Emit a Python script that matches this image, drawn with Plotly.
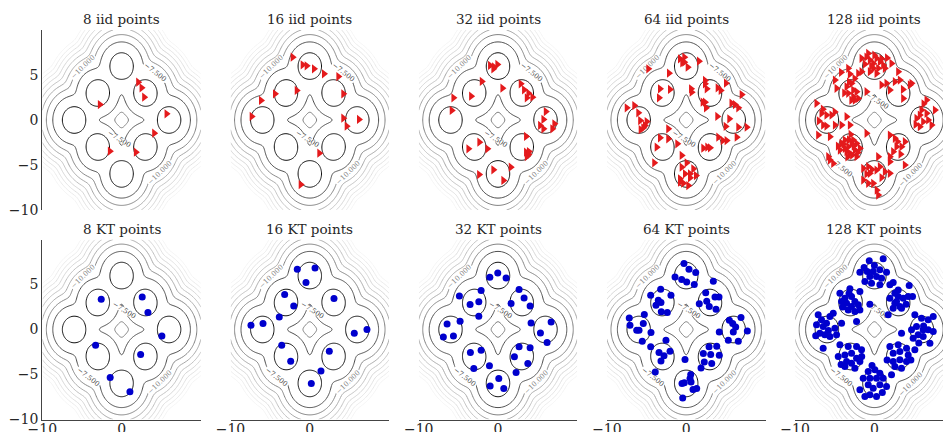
import numpy as np
import plotly.graph_objects as go

# ---- target: 8-component Gaussian mixture (identity covariance) ----
MEANS_X = [-3, -3, 3, 3, 0, -6, 6, 0]
MEANS_Y = [3, -3, 3, -3, 6, 0, 0, -6]
SIGMA = 1.0
LEVEL_START, LEVEL_END, LEVEL_STEP = -27.5, -5.0, 2.5
COLOR_MIN, COLOR_MAX = -30.0, -5.0

# ---- point sets ----
iid8_x = [2.09, 2.52, 2.85, -2.74, 5.67, 4.11, -1.48, 1.80]
iid8_y = [4.2, 3.58, 2.53, 1.72, 0.69, -1.47, -3.47, -3.58]
kt8_x = [-2.57, 2.6, 3.32, 5.08, -3.28, 2.40, -1.44, 1.05]
kt8_y = [3.37, 3.62, 1.89, -0.71, -1.74, -2.78, -5.33, -6.93]

iid16_x = [-2.16, -0.9, -0.39, 0.53, 1.79, 3.6, -1.65, -4.39, 4.23, -6.15, -7.33, 4.23, 6.2, 4.65, 1.2, -1.15]
iid16_y = [6.98, 6.13, 6.02, 5.69, 5.13, 4.83, 3.28, 2.91, 2.91, 2.17, 0.39, 0.2, 0.06, -0.69, -3.69, -7.17]
kt16_x = [-1.58, 0.66, -0.48, -3.17, 3.05, -2.03, -3.85, -5.9, -7.42, 7.21, 5.61, -3.54, 2.46, -2.41, 1.41, 0.19]
kt16_y = [6.7, 6.84, 5.22, 3.89, 3.44, 2.62, 1.4, 0.67, 0.48, 0.0, -0.41, -1.74, -2.41, -3.52, -4.6, -6.0]

iid32_x = [-1.0, -0.08, -0.58, -2.04, 0.56, 2.87, 3.29, 3.84, 4.34, 3.63, -5.62, -3.39, -5.83, 6.03, 5.73, 5.31,
           5.73, 7.11, 6.86, 3.54, -2.35, -3.73, -1.34, 3.54, 3.84, 3.63, 1.61, -0.58, -2.38, 0.68, 3.9, -0.5]
iid32_y = [6.06, 6.17, 5.69, 4.28, 3.53, 4.02, 3.36, 2.98, 2.53, 2.47, 2.47, 2.64, 1.06, 0.94, 0.06, -0.61,
           -0.98, -0.42, -0.98, -1.83, -2.47, -3.2, -3.2, -3.58, -3.83, -4.06, -5.24, -5.54, -6.06, -6.72, -3.5, 5.9]
kt32_x = [-1.03, -0.03, 1.02, -4.87, -2.13, -3.52, -2.42, -2.42, 2.66, 3.29, 1.65, 4.05, -4.78, -6.42, -6.89, -5.62,
          4.17, 6.7, 5.35, 6.19, -3.48, -2.13, -3.05, -1.08, 2.66, 4.05, 2.07, 3.76, 2.28, 0.1, -0.99, 0.73]
kt32_y = [5.81, 6.29, 5.73, 3.73, 4.33, 2.78, 3.07, 1.48, 4.44, 3.51, 2.89, 2.62, 0.92, 0.62, -0.82, -0.71,
          0.73, 0.84, -0.38, -1.44, -2.56, -2.3, -4.33, -4.04, -1.93, -2.04, -3.04, -3.78, -4.78, -5.44, -6.27, -6.56]

iid64_x = [-0.78, -0.24, -0.49, 0.19, 1.61, -4.78, -2.17, -3.3, -2.04, -3.43, 0.61, 0.69, 2.37, 2.59, 3.97, 4.35,
           5.02, 7.0, 2.08, 2.5, 5.71, 6.15, 5.44, 3.92, 4.98, 6.57, 6.37, 7.63, 4.6, 5.1, -7.5, -6.54,
           -6.04, -4.98, -5.2, -5.74, -5.41, -2.26, -3.3, -2.26, -3.72, -1.12, -4.03, 2.16, 2.66, 3.0, -0.57, 0.06,
           -0.57, 0.9, -0.15, -0.78, 0.48, 1.24, -0.37, 0.27, -0.78, -5.8, 0.48, 6.57, 4.05, 2.37, -0.24, 2.37]
iid64_y = [6.8, 6.98, 6.35, 5.87, 6.54, 5.69, 5.2, 3.47, 3.39, 2.46, 3.47, 3.09, 4.39, 3.47, 3.57, 3.28,
           4.09, 2.83, 1.98, 1.35, 1.87, 1.72, 0.13, 0.39, -0.72, -0.8, -1.91, -0.8, -2.28, -2.28, 1.35, 1.61,
           0.8, -0.17, -0.61, -1.06, -0.87, -0.98, -1.98, -2.09, -3.02, -2.65, -4.76, -3.13, -3.02, -3.09, -3.94, -4.76,
           -5.24, -5.43, -5.98, -6.54, -6.43, -6.17, -7.02, -7.28, -6.91, -0.06, -5.98, 1.35, -1.91, 1.98, 6.42, 4.02]
kt64_x = [-0.28, 0.35, 1.2, -1.41, -0.57, 0.06, 1.02,
          -4.48, -3.22, -1.92, -3.52, -3.18, -3.81, -3.14, -2.38,
          3.42, 2.46, 3.63, 4.14, 2.59, 1.65, 2.91, 3.76,
          -7.18, -5.28, -7.09, -5.41, -6.24, -5.95, -4.44, -5.54,
          5.44, 5.86, 6.91, 6.24, 5.94, 7.71, 5.31, 6.57, 4.17,
          -2.55, -4.48, -3.43, -2.04, -2.8, -3.18, -3.9,
          -0.15,
          2.88, 3.85, 2.16, 3.09, 4.17, 2.28, 3.22, 1.87,
          0.57, -0.53, -0.24, 0.61, 0.86, 1.32, -0.44, 0.48]
kt64_y = [7.33, 6.7, 6.33, 5.84, 5.56, 5.29, 5.0,
          3.81, 4.48, 3.81, 3.26, 3.0, 2.7, 1.96, 1.89,
          5.37, 4.07, 3.62, 3.62, 3.14, 2.85, 2.56, 2.26,
          1.29, 1.66, 0.48, 0.67, -0.08, -0.08, -0.33, -1.3,
          1.03, 0.67, 1.33, 0.29, -0.27, -0.16, -1.19, -1.3, -0.27,
          -1.19, -1.93, -2.56, -2.41, -2.93, -3.49, -4.71,
          -3.33,
          -1.93, -1.86, -2.67, -2.78, -2.86, -3.6, -3.78, -4.27,
          -5.0, -6.0, -5.93, -5.82, -6.67, -6.56, -7.6, -5.44]

iid128_x = [-1.62, -0.78, -0.57, -0.15, 0.27, 0.69, -0.15, 0.48, 1.11, 2.16, 1.32, -0.57, 0.27,
            -4.98, -3.3, -3.09, -2.04, -1.62, -3.51, -2.88, -2.67, -2.25, -3.3, -2.67, -2.04, -0.99, -4.77, -2.46,
            0.9, 1.53, 2.58, 3.21, 4.68, 3.0, 3.63, 1.95, 4.47,
            6.58, 5.94, 5.73, 6.58, 5.31, 6.15, 6.78, 7.21, 5.73, 7.63,
            -7.3, -6.67, -6.04, -5.4, -6.46, -6.04, -4.98, -3.51, -3.09, -4.14, -7.09, -5.61,
            -4.14, -3.72, -3.3, -2.88, -2.46, -3.51, -3.09, -2.25, -1.83, -3.72, -4.35, -2.67, -0.99, -5.61, -5.19, -5.82, -2.25,
            1.95, 2.58, 2.79, 3.42, 3.84, 2.37, 1.95, 3.84,
            -1.41, -0.78, -0.57, 0.27, 0.69, 0.48, -1.41, -0.78, -0.15, 1.32, 1.95, 0.48, 1.95,
            -1.0, 0.0, -0.4, 0.9, -1.2, 1.6, -3.2, -2.5, -3.8, -2.9, -4.2,
            -3.2, -2.6, -3.9, -2.1, -3.4, -4.6, -2.8, -3.0, -6.5, -5.0, -7.0,
            6.2, 5.2, 2.9, 3.3, -0.3, 0.9, -1.0, 0.3, 3.6]
iid128_y = [6.85, 7.4, 6.66, 6.29, 6.85, 6.48, 5.74, 5.74, 6.11, 6.29, 5.74, 5.37, 5.18,
            4.44, 5.74, 5.11, 5.18, 5.37, 3.7, 4.07, 3.33, 3.14, 2.96, 2.59, 2.4, 3.14, 3.52, 2.22,
            3.89, 4.07, 4.26, 4.44, 4.07, 5.37, 2.4, 3.33, 3.89,
            2.22, 1.11, 0.55, 0.74, 0.18, -0.19, 0.0, -0.56, -0.74, 1.11,
            1.85, 0.74, 0.55, 0.55, -0.56, -0.67, -0.56, 0.37, -0.56, -0.56, -1.67, -1.86,
            -2.6, -2.23, -2.97, -2.6, -3.34, -3.52, -3.71, -2.6, -3.15, -3.15, -3.34, -2.23, -1.48, -4.45, -4.82, -4.08, -4.08,
            -1.67, -2.04, -2.97, -2.97, -2.41, -3.52, -4.08, -5.0,
            -5.37, -5.19, -5.93, -5.56, -5.19, -4.08, -6.67, -7.04, -7.04, -5.74, -5.93, -8.34, -4.63,
            7.0, 7.2, 6.0, 6.8, 6.2, 6.9, 4.2, 4.6, 3.0, 2.2, 5.3,
            -2.2, -2.9, -2.7, -3.6, -4.1, -2.9, -3.9, -1.6, 1.2, 0.9, -0.1,
            1.8, -0.5, -2.4, -3.8, -5.5, -6.4, -6.0, -7.8, 3.4]
kt128_x = [-0.65, 1.11, -1.83, -0.91, -0.15, 0.69, 1.53, -0.57, 0.27, 0.9, -1.2, -0.36, 0.69, 2.37,
           -4.35, -3.09, -1.83, -3.72, -2.88, -2.46, -3.51, -2.88, -2.04, -3.3, -2.46, -1.83, -4.14, -0.57,
           1.95, 2.58, 2.79, 3.0, 3.63, 4.26, 1.95, 2.58, 3.21, 2.37, 4.39, 4.81, 1.74, 3.42,
           -7.09, -6.67, -5.61, -5.19, -7.3, -6.46, -6.04, -4.98, -6.88, -6.25, -5.61, -4.77, -4.14, -6.46, -2.25,
           5.1, 5.94, 6.78, 7.42, 4.68, 5.31, 6.15, 6.78, 7.42, 5.52, 6.15, 7.0, 3.42, 4.89,
           -4.35, -3.3, -2.25, -1.62, -4.56, -3.72, -2.88, -2.25, -3.51, -2.88, -1.83, -3.72, -2.46,
           1.95, 3.0, 4.05, 2.37, 3.21, 4.26, 2.37, 3.21, 4.05, 2.58, 3.42, 5.1,
           -0.78, 0.06, 0.69, -1.41, -0.57, 0.27, 1.11, -1.83, -0.78, -0.15, 0.69, 1.53, -0.57, 0.27, -1.2, 2.16,
           0.0, -1.3, -3.2, -4.0, 3.0, 4.0, -5.8, -7.4, 6.2, 5.6, -4.2, -1.6, 4.6, 1.6, -0.3, 1.0]
kt128_y = [7.63, 7.85, 6.37, 6.44, 6.44, 6.63, 6.37, 5.89, 5.89, 5.7, 5.33, 5.15, 4.96, 5.22,
           4.04, 4.52, 4.22, 3.48, 3.67, 3.11, 2.93, 2.55, 2.74, 2.18, 2.0, 2.18, 3.11, 2.81,
           4.96, 4.04, 3.11, 3.67, 3.48, 3.67, 3.48, 2.93, 2.55, 2.37, 4.89, 3.67, 1.63, 2.37,
           1.63, 1.07, 1.44, 1.81, 0.52, 0.33, 0.7, 0.15, -0.41, -0.59, -0.78, -0.59, 0.7, -2.07, 0.89,
           1.63, 1.26, 1.07, 1.44, -0.04, 0.33, -0.04, -0.04, -0.22, -0.59, -0.78, -1.52, -0.41, -0.96,
           -1.7, -1.89, -1.89, -2.26, -3.0, -2.82, -2.63, -3.19, -3.56, -3.74, -3.56, -4.11, -4.3,
           -1.89, -1.7, -2.07, -2.63, -2.45, -2.82, -3.56, -3.37, -3.56, -4.11, -4.3, -2.26,
           -4.67, -4.48, -4.85, -5.41, -5.41, -5.41, -5.41, -6.7, -6.15, -6.52, -6.15, -6.33, -7.26, -7.45, -7.45, -5.04,
           7.1, 6.9, 4.0, 2.5, 4.4, 2.8, -0.1, -0.7, 0.4, -1.5, -3.9, -3.0, -3.4, -3.4, -4.0, -7.0]

TITLES_TOP = ["8 iid points", "16 iid points", "32 iid points", "64 iid points", "128 iid points"]
TITLES_BOT = ["8 KT points", "16 KT points", "32 KT points", "64 KT points", "128 KT points"]
IID = [(iid8_x, iid8_y), (iid16_x, iid16_y), (iid32_x, iid32_y), (iid64_x, iid64_y), (iid128_x, iid128_y)]
KT = [(kt8_x, kt8_y), (kt16_x, kt16_y), (kt32_x, kt32_y), (kt64_x, kt64_y), (kt128_x, kt128_y)]

# ---- log density on a grid ----
grid = np.linspace(-10, 10, 161)
GX, GY = np.meshgrid(grid, grid)
dens = np.zeros_like(GX)
for mx, my in zip(MEANS_X, MEANS_Y):
    dens += np.exp(-((GX - mx) ** 2 + (GY - my) ** 2) / (2 * SIGMA ** 2)) / (2 * np.pi * SIGMA ** 2)
dens /= len(MEANS_X)
logp = np.round(np.log(dens), 3)

W, H = 943, 432
PX_PER_UNIT = 7.93
COL_LEFT = [42.3 + 188.2 * c for c in range(5)]
ROW_TOP = [30.0, 239.5]
ROW_BOT = [210.0, 419.5]
FONT = "DejaVu Serif"
TXT = "#262626"
RED = "#e41a1c"
BLUE = "#0000cd"

line_scale = [[0.0, "#ffffff"], [0.1, "#f4f4f4"], [0.2, "#ececec"], [0.3, "#e3e3e3"], [0.4, "#d8d8d8"],
              [0.5, "#cacaca"], [0.6, "#b6b6b6"], [0.7, "#9c9c9c"], [0.8, "#787878"], [0.9, "#464646"],
              [1.0, "#111111"]]

fig = go.Figure()
layout = {}
ann = []
for r in range(2):
    for c in range(5):
        idx = r * 5 + c + 1
        xa = "x" if idx == 1 else f"x{idx}"
        ya = "y" if idx == 1 else f"y{idx}"
        left = COL_LEFT[c]
        right = left + 20 * PX_PER_UNIT
        xmax = 10.0
        if right > W:
            xmax = -10 + (W - left) / PX_PER_UNIT
            right = W
        fig.add_trace(go.Contour(
            x=grid, y=grid, z=logp, xaxis=xa, yaxis=ya,
            autocontour=False,
            contours=dict(start=LEVEL_START, end=LEVEL_END, size=LEVEL_STEP, coloring="lines",
                          showlabels=True, labelfont=dict(size=7, family=FONT), labelformat=".3f"),
            colorscale=line_scale, zmin=COLOR_MIN, zmax=COLOR_MAX, showscale=False,
            line=dict(width=1), hoverinfo="skip"))
        px_, py_ = (IID[c] if r == 0 else KT[c])
        if r == 0:
            marker = dict(symbol="triangle-right", size=8, color=RED, line=dict(width=0))
        else:
            marker = dict(symbol="circle", size=7, color=BLUE, line=dict(width=0))
        fig.add_trace(go.Scatter(x=px_, y=py_, mode="markers", marker=marker, xaxis=xa, yaxis=ya,
                                 showlegend=False, hoverinfo="skip"))
        show_x = r == 1
        show_y = c == 0
        layout["xaxis" if idx == 1 else f"xaxis{idx}"] = dict(
            domain=[left / W, right / W], range=[-10, xmax], anchor=ya, automargin=False,
            showgrid=False, zeroline=False, showline=show_x, linecolor="#444", linewidth=1.25,
            showticklabels=show_x, tickvals=[-10, 0], ticktext=["\u221210", "0"], ticks="",
            ticklabelstandoff=-3,
            tickfont=dict(family=FONT, size=14, color=TXT), fixedrange=True)
        layout["yaxis" if idx == 1 else f"yaxis{idx}"] = dict(
            domain=[1 - ROW_BOT[r] / H, 1 - ROW_TOP[r] / H], range=[-10, 10], anchor=xa, automargin=False,
            showgrid=False, zeroline=False, showline=show_y, linecolor="#444", linewidth=1.25,
            showticklabels=show_y, tickvals=[-10, -5, 0, 5], ticktext=["\u221210", "\u22125", "0", "5"],
            ticks="", tickfont=dict(family=FONT, size=14, color=TXT), fixedrange=True)
        title = TITLES_TOP[c] if r == 0 else TITLES_BOT[c]
        ann.append(dict(text=title, x=(left + 10 * PX_PER_UNIT) / W, y=1 - (ROW_TOP[r] - 11) / H,
                        xref="paper", yref="paper", xanchor="center", yanchor="middle", showarrow=False,
                        font=dict(family=FONT, size=13.5, color=TXT)))

fig.update_layout(**layout)
fig.update_layout(width=W, height=H, margin=dict(l=0, r=0, t=0, b=0, autoexpand=False),
                  plot_bgcolor="white", paper_bgcolor="white", showlegend=False, annotations=ann)
fig.write_html("out.html", config={"displayModeBar": False},
               post_script="document.body.style.margin='0';document.body.style.overflow='hidden';")
